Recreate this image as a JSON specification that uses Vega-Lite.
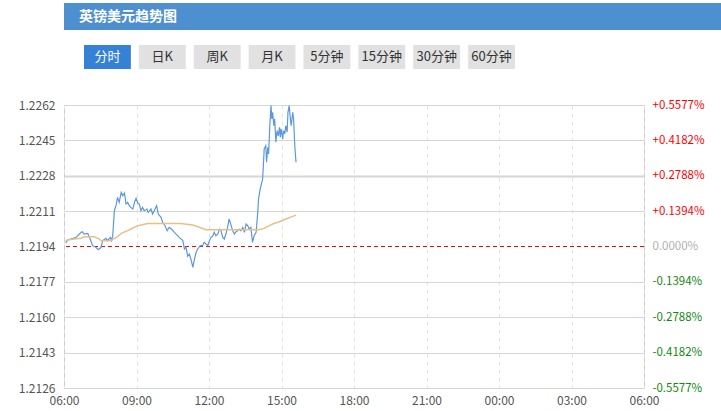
{
  "$schema": "https://vega.github.io/schema/vega-lite/v6.json",
  "padding": {"left": 7, "top": 3, "right": 0, "bottom": 0},
  "background": "#ffffff",
  "config": {"font": "Noto Sans CJK SC", "view": {"stroke": null}},
  "columns": 1,
  "align": "none",
  "spacing": 29,
  "concat": [
    {
      "spacing": 15,
      "vconcat": [
        {
          "width": 708,
          "height": 27,
          "data": {"values": [{"name": "英镑美元趋势图"}]},
          "view": {"fill": "#4d8fcf", "stroke": null},
          "mark": {"type": "text", "align": "left", "baseline": "middle", "dx": 15, "fill": "#ffffff", "fontSize": 14, "fontWeight": "bold"},
          "encoding": {
            "text": {"field": "name"},
            "x": {"datum": 0, "type": "quantitative", "scale": {"domain": [0, 1]}, "axis": null}
          }
        },
        {
          "width": 471,
          "height": 24,
          "data": {"values": [
            {"label": "分时", "active": true},
            {"label": "日K", "active": false},
            {"label": "周K", "active": false},
            {"label": "月K", "active": false},
            {"label": "5分钟", "active": false},
            {"label": "15分钟", "active": false},
            {"label": "30分钟", "active": false},
            {"label": "60分钟", "active": false}
          ]},
          "encoding": {
            "x": {"field": "label", "type": "nominal", "sort": null, "axis": null, "scale": {"paddingInner": 0.146, "paddingOuter": 0.3645}}
          },
          "layer": [
            {"mark": {"type": "rect"}, "encoding": {"color": {"condition": {"test": "datum.active", "value": "#3481d6"}, "value": "#e1e1e1"}}},
            {"mark": {"type": "text", "fontSize": 13, "baseline": "middle", "align": "center"}, "encoding": {"text": {"field": "label"}, "color": {"condition": {"test": "datum.active", "value": "#ffffff"}, "value": "#333333"}}}
          ]
        }
      ]
    },
    {
      "vconcat": [
        {
          "width": 580,
          "height": 283,
          "view": {"stroke": "#cccccc"},
          "resolve": {"scale": {"y": "independent"}},
          "layer": [
            {
              "data": {"values": [{"prev": 1.2194}]},
              "mark": {"type": "rule", "stroke": "#ff0000", "strokeDash": [4, 3], "strokeWidth": 1},
              "encoding": {"y": {"field": "prev", "type": "quantitative", "axis": null, "scale": {"domain": [1.2126, 1.2262], "zero": false, "nice": false}}}
            },
            {
              "data": {"values": [
                {"hour": 6.067, "v": 1.21957}, {"hour": 6.15, "v": 1.21971}, {"hour": 6.283, "v": 1.21976}, {"hour": 6.5, "v": 1.21984},
                {"hour": 6.633, "v": 1.2200}, {"hour": 6.75, "v": 1.22012}, {"hour": 6.833, "v": 1.2200}, {"hour": 6.983, "v": 1.22003},
                {"hour": 7.083, "v": 1.21976}, {"hour": 7.183, "v": 1.21944}, {"hour": 7.317, "v": 1.21936}, {"hour": 7.417, "v": 1.21925},
                {"hour": 7.533, "v": 1.21936}, {"hour": 7.6, "v": 1.21968}, {"hour": 7.733, "v": 1.21979}, {"hour": 7.8, "v": 1.21968},
                {"hour": 7.917, "v": 1.21984}, {"hour": 7.967, "v": 1.21968}, {"hour": 8.017, "v": 1.21992}, {"hour": 8.083, "v": 1.22112},
                {"hour": 8.15, "v": 1.22136}, {"hour": 8.217, "v": 1.22176}, {"hour": 8.283, "v": 1.22152}, {"hour": 8.367, "v": 1.2220},
                {"hour": 8.433, "v": 1.22184}, {"hour": 8.5, "v": 1.22197}, {"hour": 8.567, "v": 1.22144}, {"hour": 8.633, "v": 1.22152},
                {"hour": 8.7, "v": 1.22136}, {"hour": 8.767, "v": 1.22128}, {"hour": 8.85, "v": 1.2212}, {"hour": 8.917, "v": 1.22152},
                {"hour": 8.983, "v": 1.22172}, {"hour": 9.05, "v": 1.22149}, {"hour": 9.117, "v": 1.22144}, {"hour": 9.183, "v": 1.22112},
                {"hour": 9.25, "v": 1.22128}, {"hour": 9.317, "v": 1.22112}, {"hour": 9.433, "v": 1.2212}, {"hour": 9.483, "v": 1.22104},
                {"hour": 9.6, "v": 1.2212}, {"hour": 9.667, "v": 1.22096}, {"hour": 9.733, "v": 1.22112}, {"hour": 9.833, "v": 1.22136},
                {"hour": 9.9, "v": 1.22096}, {"hour": 10.017, "v": 1.2208}, {"hour": 10.083, "v": 1.22056}, {"hour": 10.183, "v": 1.2204},
                {"hour": 10.267, "v": 1.22016}, {"hour": 10.35, "v": 1.22032}, {"hour": 10.45, "v": 1.22024}, {"hour": 10.567, "v": 1.22008},
                {"hour": 10.7, "v": 1.21992}, {"hour": 10.767, "v": 1.21984}, {"hour": 10.917, "v": 1.21968}, {"hour": 10.983, "v": 1.21928},
                {"hour": 11.05, "v": 1.21936}, {"hour": 11.117, "v": 1.21893}, {"hour": 11.183, "v": 1.21904}, {"hour": 11.25, "v": 1.2188},
                {"hour": 11.333, "v": 1.2184}, {"hour": 11.4, "v": 1.2188}, {"hour": 11.467, "v": 1.21912}, {"hour": 11.533, "v": 1.21928},
                {"hour": 11.633, "v": 1.21944}, {"hour": 11.733, "v": 1.21944}, {"hour": 11.8, "v": 1.2196}, {"hour": 11.95, "v": 1.21944},
                {"hour": 12.017, "v": 1.21968}, {"hour": 12.083, "v": 1.21984}, {"hour": 12.15, "v": 1.21989}, {"hour": 12.217, "v": 1.22008},
                {"hour": 12.283, "v": 1.21992}, {"hour": 12.367, "v": 1.2200}, {"hour": 12.433, "v": 1.22024}, {"hour": 12.5, "v": 1.22016},
                {"hour": 12.567, "v": 1.21984}, {"hour": 12.633, "v": 1.21976}, {"hour": 12.7, "v": 1.2200}, {"hour": 12.767, "v": 1.22032},
                {"hour": 12.833, "v": 1.22072}, {"hour": 12.917, "v": 1.2204}, {"hour": 12.983, "v": 1.22016}, {"hour": 13.05, "v": 1.2200},
                {"hour": 13.117, "v": 1.22011}, {"hour": 13.183, "v": 1.22016}, {"hour": 13.25, "v": 1.22024}, {"hour": 13.317, "v": 1.22016},
                {"hour": 13.4, "v": 1.22032}, {"hour": 13.467, "v": 1.22008}, {"hour": 13.533, "v": 1.22048}, {"hour": 13.6, "v": 1.2204},
                {"hour": 13.667, "v": 1.22024}, {"hour": 13.733, "v": 1.22032}, {"hour": 13.8, "v": 1.2196}, {"hour": 13.867, "v": 1.21992},
                {"hour": 13.95, "v": 1.22008}, {"hour": 14.017, "v": 1.22104}, {"hour": 14.05, "v": 1.22168}, {"hour": 14.117, "v": 1.22216},
                {"hour": 14.15, "v": 1.22232}, {"hour": 14.217, "v": 1.22264}, {"hour": 14.25, "v": 1.22328}, {"hour": 14.283, "v": 1.22409},
                {"hour": 14.35, "v": 1.22424}, {"hour": 14.383, "v": 1.22345}, {"hour": 14.433, "v": 1.22417}, {"hour": 14.467, "v": 1.22385},
                {"hour": 14.517, "v": 1.22521}, {"hour": 14.567, "v": 1.22617}, {"hour": 14.6, "v": 1.22553}, {"hour": 14.633, "v": 1.22585},
                {"hour": 14.683, "v": 1.22521}, {"hour": 14.717, "v": 1.22553}, {"hour": 14.767, "v": 1.22441}, {"hour": 14.817, "v": 1.22497},
                {"hour": 14.867, "v": 1.22472}, {"hour": 14.917, "v": 1.22513}, {"hour": 14.95, "v": 1.22465}, {"hour": 14.983, "v": 1.22505},
                {"hour": 15.05, "v": 1.22457}, {"hour": 15.083, "v": 1.22497}, {"hour": 15.133, "v": 1.22481}, {"hour": 15.183, "v": 1.22521},
                {"hour": 15.233, "v": 1.22489}, {"hour": 15.267, "v": 1.22585}, {"hour": 15.317, "v": 1.22617}, {"hour": 15.367, "v": 1.22553},
                {"hour": 15.4, "v": 1.22521}, {"hour": 15.467, "v": 1.22585}, {"hour": 15.5, "v": 1.22553}, {"hour": 15.55, "v": 1.22424},
                {"hour": 15.6, "v": 1.22345}
              ]},
              "mark": {"type": "line", "color": "#5d98de", "strokeWidth": 1.2},
              "encoding": {
                "x": {"field": "hour", "type": "quantitative", "title": null,
                  "scale": {"domain": [6, 30], "nice": false, "zero": false},
                  "axis": {"values": [6, 9, 12, 15, 18, 21, 24, 27, 30], "labelExpr": "(datum.value % 24 < 10 ? '0' : '') + (datum.value % 24) + ':00'", "grid": true, "gridDash": [4, 4], "gridColor": "#e3e3e3", "ticks": false, "domain": false, "labelColor": "#555555", "labelFontSize": 12, "labelPadding": 7, "labelFlush": false}},
                "y": {"field": "v", "type": "quantitative", "title": null,
                  "scale": {"domain": [1.2126, 1.2262], "zero": false, "nice": false},
                  "axis": {"orient": "left", "values": [1.2126, 1.2143, 1.216, 1.2177, 1.2194, 1.2211, 1.2228, 1.2245, 1.2262], "format": ".4f", "grid": true, "gridColor": "#d6d6d6",
                    "gridOpacity": {"condition": {"test": "abs(datum.value - 1.2194) < 0.00001", "value": 0}, "value": 1},
                    "gridWidth": {"condition": {"test": "abs(datum.value - 1.2228) < 0.00001", "value": 2}, "value": 1},
                    "ticks": false, "domain": false, "labelColor": "#555555", "labelFontSize": 12, "labelPadding": 9, "minExtent": 56}}
              }
            },
            {
              "data": {"values": [
                {"hour": 6.067, "v": 1.21968}, {"hour": 6.15, "v": 1.21971}, {"hour": 6.433, "v": 1.21976}, {"hour": 6.7, "v": 1.2198},
                {"hour": 6.833, "v": 1.21987}, {"hour": 7.25, "v": 1.21987}, {"hour": 7.467, "v": 1.21976}, {"hour": 7.533, "v": 1.21968},
                {"hour": 7.95, "v": 1.21968}, {"hour": 8.083, "v": 1.21979}, {"hour": 8.217, "v": 1.21987}, {"hour": 8.367, "v": 1.22003},
                {"hour": 8.633, "v": 1.22016}, {"hour": 8.85, "v": 1.22029}, {"hour": 9.05, "v": 1.2204}, {"hour": 9.467, "v": 1.22051},
                {"hour": 10.833, "v": 1.22051}, {"hour": 11.333, "v": 1.22043}, {"hour": 11.883, "v": 1.22021}, {"hour": 14.067, "v": 1.22021},
                {"hour": 14.283, "v": 1.22027}, {"hour": 14.35, "v": 1.22032}, {"hour": 14.633, "v": 1.22048}, {"hour": 14.917, "v": 1.22059},
                {"hour": 15.183, "v": 1.22072}, {"hour": 15.467, "v": 1.22085}, {"hour": 15.6, "v": 1.22091}
              ]},
              "mark": {"type": "line", "color": "#e6c185", "strokeWidth": 1.5},
              "encoding": {
                "x": {"field": "hour", "type": "quantitative"},
                "y": {"field": "v", "type": "quantitative", "title": null,
                  "scale": {"domain": [1.2126, 1.2262], "zero": false, "nice": false},
                  "axis": {"orient": "right", "values": [1.2126, 1.2143, 1.216, 1.2177, 1.2194, 1.2211, 1.2228, 1.2245, 1.2262], "grid": false, "ticks": false, "domain": false,
                    "labelExpr": "(datum.value > 1.21945 ? '+' : datum.value < 1.21935 ? '-' : '') + format(abs(datum.value - 1.2194) / 1.2194 * 100, '.4f') + '%'",
                    "labelColor": {"condition": [{"test": "datum.value > 1.21945", "value": "#ff0000"}, {"test": "datum.value < 1.21935", "value": "#118811"}], "value": "#b0b0b0"},
                    "labelFontSize": 11.5, "labelPadding": 8}}
              }
            }
          ]
        }
      ]
    }
  ]
}
